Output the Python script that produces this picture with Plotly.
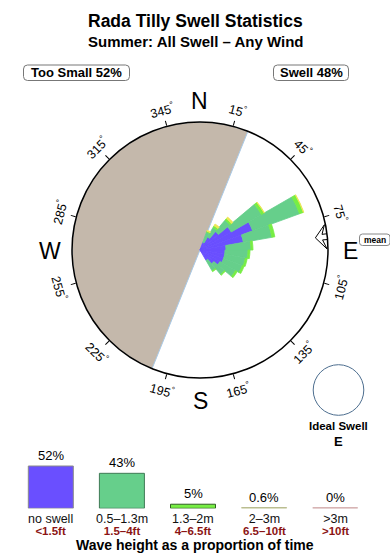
import math
import plotly.graph_objects as go

# ---------------- data ----------------
TITLE = "Rada Tilly Swell Statistics"
SUBTITLE = "Summer: All Swell – Any Wind"
TOO_SMALL_LABEL = "Too Small 52%"
SWELL_LABEL = "Swell 48%"

# rose: direction bins (deg, from north clockwise) and stacked segment sizes
DIRECTIONS = [25, 35, 45, 55, 65, 75, 85, 95, 105, 115, 125, 135, 145]
SEG_NO_SWELL = [0.8, 1.5, 2.4, 3.6, 5.6, 4.4, 2.6, 2.5, 2.5, 2.5, 2.3, 1.8, 1.2]
SEG_05_13 = [1.1, 1.1, 1.5, 3.5, 5.0, 2.9, 2.5, 2.3, 2.1, 2.0, 1.8, 1.4, 1.2]
SEG_13_2 = [0.1, 0.2, 0.2, 0.3, 0.4, 0.3, 0.2, 0.2, 0.2, 0.2, 0.2, 0.1, 0.1]
SEG_2_3 = [0.1, 0.2, 0.2, 0.05, 0.05, 0.0, 0.0, 0.0, 0.0, 0.0, 0.0, 0.0, 0.0]
ROSE_MAX = 12.8

SHADOW_FROM = 202   # shaded (blocked) sector start, deg
SHADOW_TO = 382     # shaded sector end, deg
MEAN_DIR = 84

ANGLE_TICKS = [15, 45, 75, 105, 135, 165, 195, 225, 255, 285, 315, 345]
CARDINALS = ["N", "E", "S", "W"]
CARDINAL_ANGLES = [0, 90, 180, 270]

IDEAL_LABEL = "Ideal Swell"
IDEAL_DIR = "E"

# bottom legend
CATS_M = ["no swell", "0.5–1.3m", "1.3–2m", "2–3m", ">3m"]
CATS_FT = ["&lt;1.5ft", "1.5–4ft", "4–6.5ft", "6.5–10ft", "&gt;10ft"]
PCTS = [52, 43, 5, 0.6, 0]
PCT_LABELS = ["52%", "43%", "5%", "0.6%", "0%"]
LEGEND_TITLE = "Wave height as a proportion of time"

# ---------------- style ----------------
W, H = 390, 560
FONT = "Liberation Sans, Arial, Helvetica, sans-serif"
COLORS = ["#6a4fff", "#66cf8b", "#77ee44", "#eee655", "#e8a0a0"]
EDGE = ["#8a8a8a", "#3f7a55", "#2f5f22", "#b4b890", "#cfa7a7"]
SHADE = "#c4b8ab"

CX, CY, R = 200, 250, 128   # compass center / radius in px


def px2x(px):
    return px / W


def px2y(py):
    return 1 - py / H


def polar_px(theta, rad):
    t = math.radians(theta)
    return CX + rad * math.sin(t), CY - rad * math.cos(t)


fig = go.Figure()

# shaded half disk
fig.add_trace(go.Barpolar(
    r=[ROSE_MAX], theta=[(SHADOW_FROM + SHADOW_TO) / 2], width=[SHADOW_TO - SHADOW_FROM],
    marker=dict(color=SHADE, line=dict(color="#a9c9e6", width=1)),
    hoverinfo="skip", showlegend=False))

# rose
for seg, col in zip([SEG_NO_SWELL, SEG_05_13, SEG_13_2, SEG_2_3], COLORS[:4]):
    fig.add_trace(go.Barpolar(
        r=seg, theta=DIRECTIONS, width=[10] * len(DIRECTIONS),
        marker=dict(color=col, line=dict(color=col, width=0.8)),
        hoverinfo="skip", showlegend=False))

# mean arrow
m = MEAN_DIR
arrow_r = [11.6, 12.7, 12.3, 12.85, 12.85, 12.3, 12.7, 11.6]
arrow_t = [m, m - 5.5, m - 1.3, m - 1.3, m + 1.3, m + 1.3, m + 5.5, m]
fig.add_trace(go.Scatterpolar(
    r=arrow_r, theta=arrow_t, mode="lines", fill="toself",
    fillcolor="white", line=dict(color="black", width=1),
    hoverinfo="skip", showlegend=False))

# bottom legend bars
xs = list(range(len(CATS_M)))
fig.add_trace(go.Bar(
    x=xs, y=PCTS, width=0.633, xaxis="x2", yaxis="y2",
    marker=dict(color=COLORS, line=dict(color=EDGE, width=1)),
    showlegend=False, hoverinfo="skip"))

fig.update_layout(
    width=W, height=H,
    margin=dict(l=0, r=0, t=0, b=0),
    paper_bgcolor="white", plot_bgcolor="white",
    font=dict(family=FONT, color="black"),
    polar=dict(
        domain=dict(x=[px2x(CX - R), px2x(CX + R)], y=[px2y(CY + R), px2y(CY - R)]),
        bgcolor="white",
        barmode="stack",
        radialaxis=dict(visible=False, range=[0, ROSE_MAX]),
        angularaxis=dict(
            direction="clockwise", rotation=90,
            tickmode="array", tickvals=ANGLE_TICKS,
            showticklabels=False, ticks="outside", ticklen=5,
            tickcolor="black", showgrid=False,
            showline=True, linecolor="black", linewidth=1.5),
    ),
    xaxis2=dict(domain=[px2x(15.25), px2x(370.75)], range=[-0.5, 4.5],
                visible=False, anchor="y2", fixedrange=True),
    yaxis2=dict(domain=[51.7 / H, 133.05 / H], range=[0, 100],
                visible=False, anchor="x2", fixedrange=True),
)

ann = []
shapes = []

# titles
ann.append(dict(text=f"<b>{TITLE}</b>", x=0.5, y=px2y(21), xref="paper", yref="paper",
                showarrow=False, font=dict(size=17.5), xanchor="center", yanchor="middle"))
ann.append(dict(text=f"<b>{SUBTITLE}</b>", x=0.5, y=px2y(42), xref="paper", yref="paper",
                showarrow=False, font=dict(size=15), xanchor="center", yanchor="middle"))


def rounded_rect(x0, y0, x1, y1, rr):
    return (f"M {px2x(x0 + rr)} {px2y(y0)} L {px2x(x1 - rr)} {px2y(y0)} "
            f"Q {px2x(x1)} {px2y(y0)} {px2x(x1)} {px2y(y0 + rr)} "
            f"L {px2x(x1)} {px2y(y1 - rr)} Q {px2x(x1)} {px2y(y1)} {px2x(x1 - rr)} {px2y(y1)} "
            f"L {px2x(x0 + rr)} {px2y(y1)} Q {px2x(x0)} {px2y(y1)} {px2x(x0)} {px2y(y1 - rr)} "
            f"L {px2x(x0)} {px2y(y0 + rr)} Q {px2x(x0)} {px2y(y0)} {px2x(x0 + rr)} {px2y(y0)} Z")


for label, (x0, x1) in [(TOO_SMALL_LABEL, (23.5, 129.5)), (SWELL_LABEL, (273.5, 348.5))]:
    shapes.append(dict(type="path", path=rounded_rect(x0, 65, x1, 80.5, 4),
                       xref="paper", yref="paper", line=dict(color="#777", width=1),
                       fillcolor="white"))
    ann.append(dict(text=f"<b>{label}</b>", x=px2x((x0 + x1) / 2), y=px2y(73),
                    xref="paper", yref="paper", showarrow=False, font=dict(size=13),
                    xanchor="center", yanchor="middle"))

# mean box
shapes.append(dict(type="path", path=rounded_rect(359.5, 234, 390, 245.5, 3),
                   xref="paper", yref="paper", line=dict(color="#888", width=1),
                   fillcolor="white"))
ann.append(dict(text="<b>mean</b>", x=px2x(374.8), y=px2y(239.8), xref="paper", yref="paper",
                showarrow=False, font=dict(size=8.5), xanchor="center", yanchor="middle"))

# degree labels (rotated tangentially)
for t in ANGLE_TICKS:
    px, py = polar_px(t, 145)
    if t < 90:
        ang = t
    elif t > 270:
        ang = t - 360
    else:
        ang = t - 180
    ann.append(dict(text=f"{t}<sup>°</sup>", x=px2x(px), y=px2y(py), xref="paper",
                    yref="paper", showarrow=False, textangle=ang,
                    font=dict(size=12.5), xanchor="center", yanchor="middle"))

# cardinal letters
for lab, t in zip(CARDINALS, CARDINAL_ANGLES):
    px, py = polar_px(t, 150)
    ann.append(dict(text=lab, x=px2x(px), y=px2y(py + 1), xref="paper", yref="paper",
                    showarrow=False, font=dict(size=23), xanchor="center", yanchor="middle"))

# ideal swell
shapes.append(dict(type="circle", xref="paper", yref="paper",
                   x0=px2x(338.5 - 25.3), x1=px2x(338.5 + 25.3),
                   y0=px2y(390 + 25.3), y1=px2y(390 - 25.3),
                   line=dict(color="#4d6e8f", width=1)))
ann.append(dict(text=f"<b>{IDEAL_LABEL}</b>", x=px2x(338.5), y=px2y(425.5), xref="paper",
                yref="paper", showarrow=False, font=dict(size=11.5),
                xanchor="center", yanchor="middle"))
ann.append(dict(text=f"<b>{IDEAL_DIR}</b>", x=px2x(338.5), y=px2y(441), xref="paper",
                yref="paper", showarrow=False, font=dict(size=13),
                xanchor="center", yanchor="middle"))

# bottom legend text
for i in xs:
    ann.append(dict(text=PCT_LABELS[i], x=i, y=PCTS[i], xref="x2", yref="y2",
                    showarrow=False, font=dict(size=13), xanchor="center",
                    yanchor="bottom", yshift=1))
    two_line = (f"<span style='font-size:12.5px;color:#111'>{CATS_M[i]}</span><br>"
                f"<b><span style='font-size:11.5px;color:#8b1414'>{CATS_FT[i]}</span></b>")
    ann.append(dict(text=two_line, x=i, y=px2y(524.5), xref="x2", yref="paper",
                    showarrow=False, font=dict(size=8.9),
                    xanchor="center", yanchor="middle"))
    shapes.append(dict(type="line", xref="x2", yref="y2", x0=i - 0.3165, x1=i + 0.3165,
                       y0=0, y1=0, line=dict(color=EDGE[i], width=2), layer="below"))

ann.append(dict(text=f"<b>{LEGEND_TITLE}</b>", x=0.5, y=px2y(544.5), xref="paper",
                yref="paper", showarrow=False, font=dict(size=14),
                xanchor="center", yanchor="middle"))

fig.update_layout(annotations=ann, shapes=shapes)
fig.write_html("out.html")
